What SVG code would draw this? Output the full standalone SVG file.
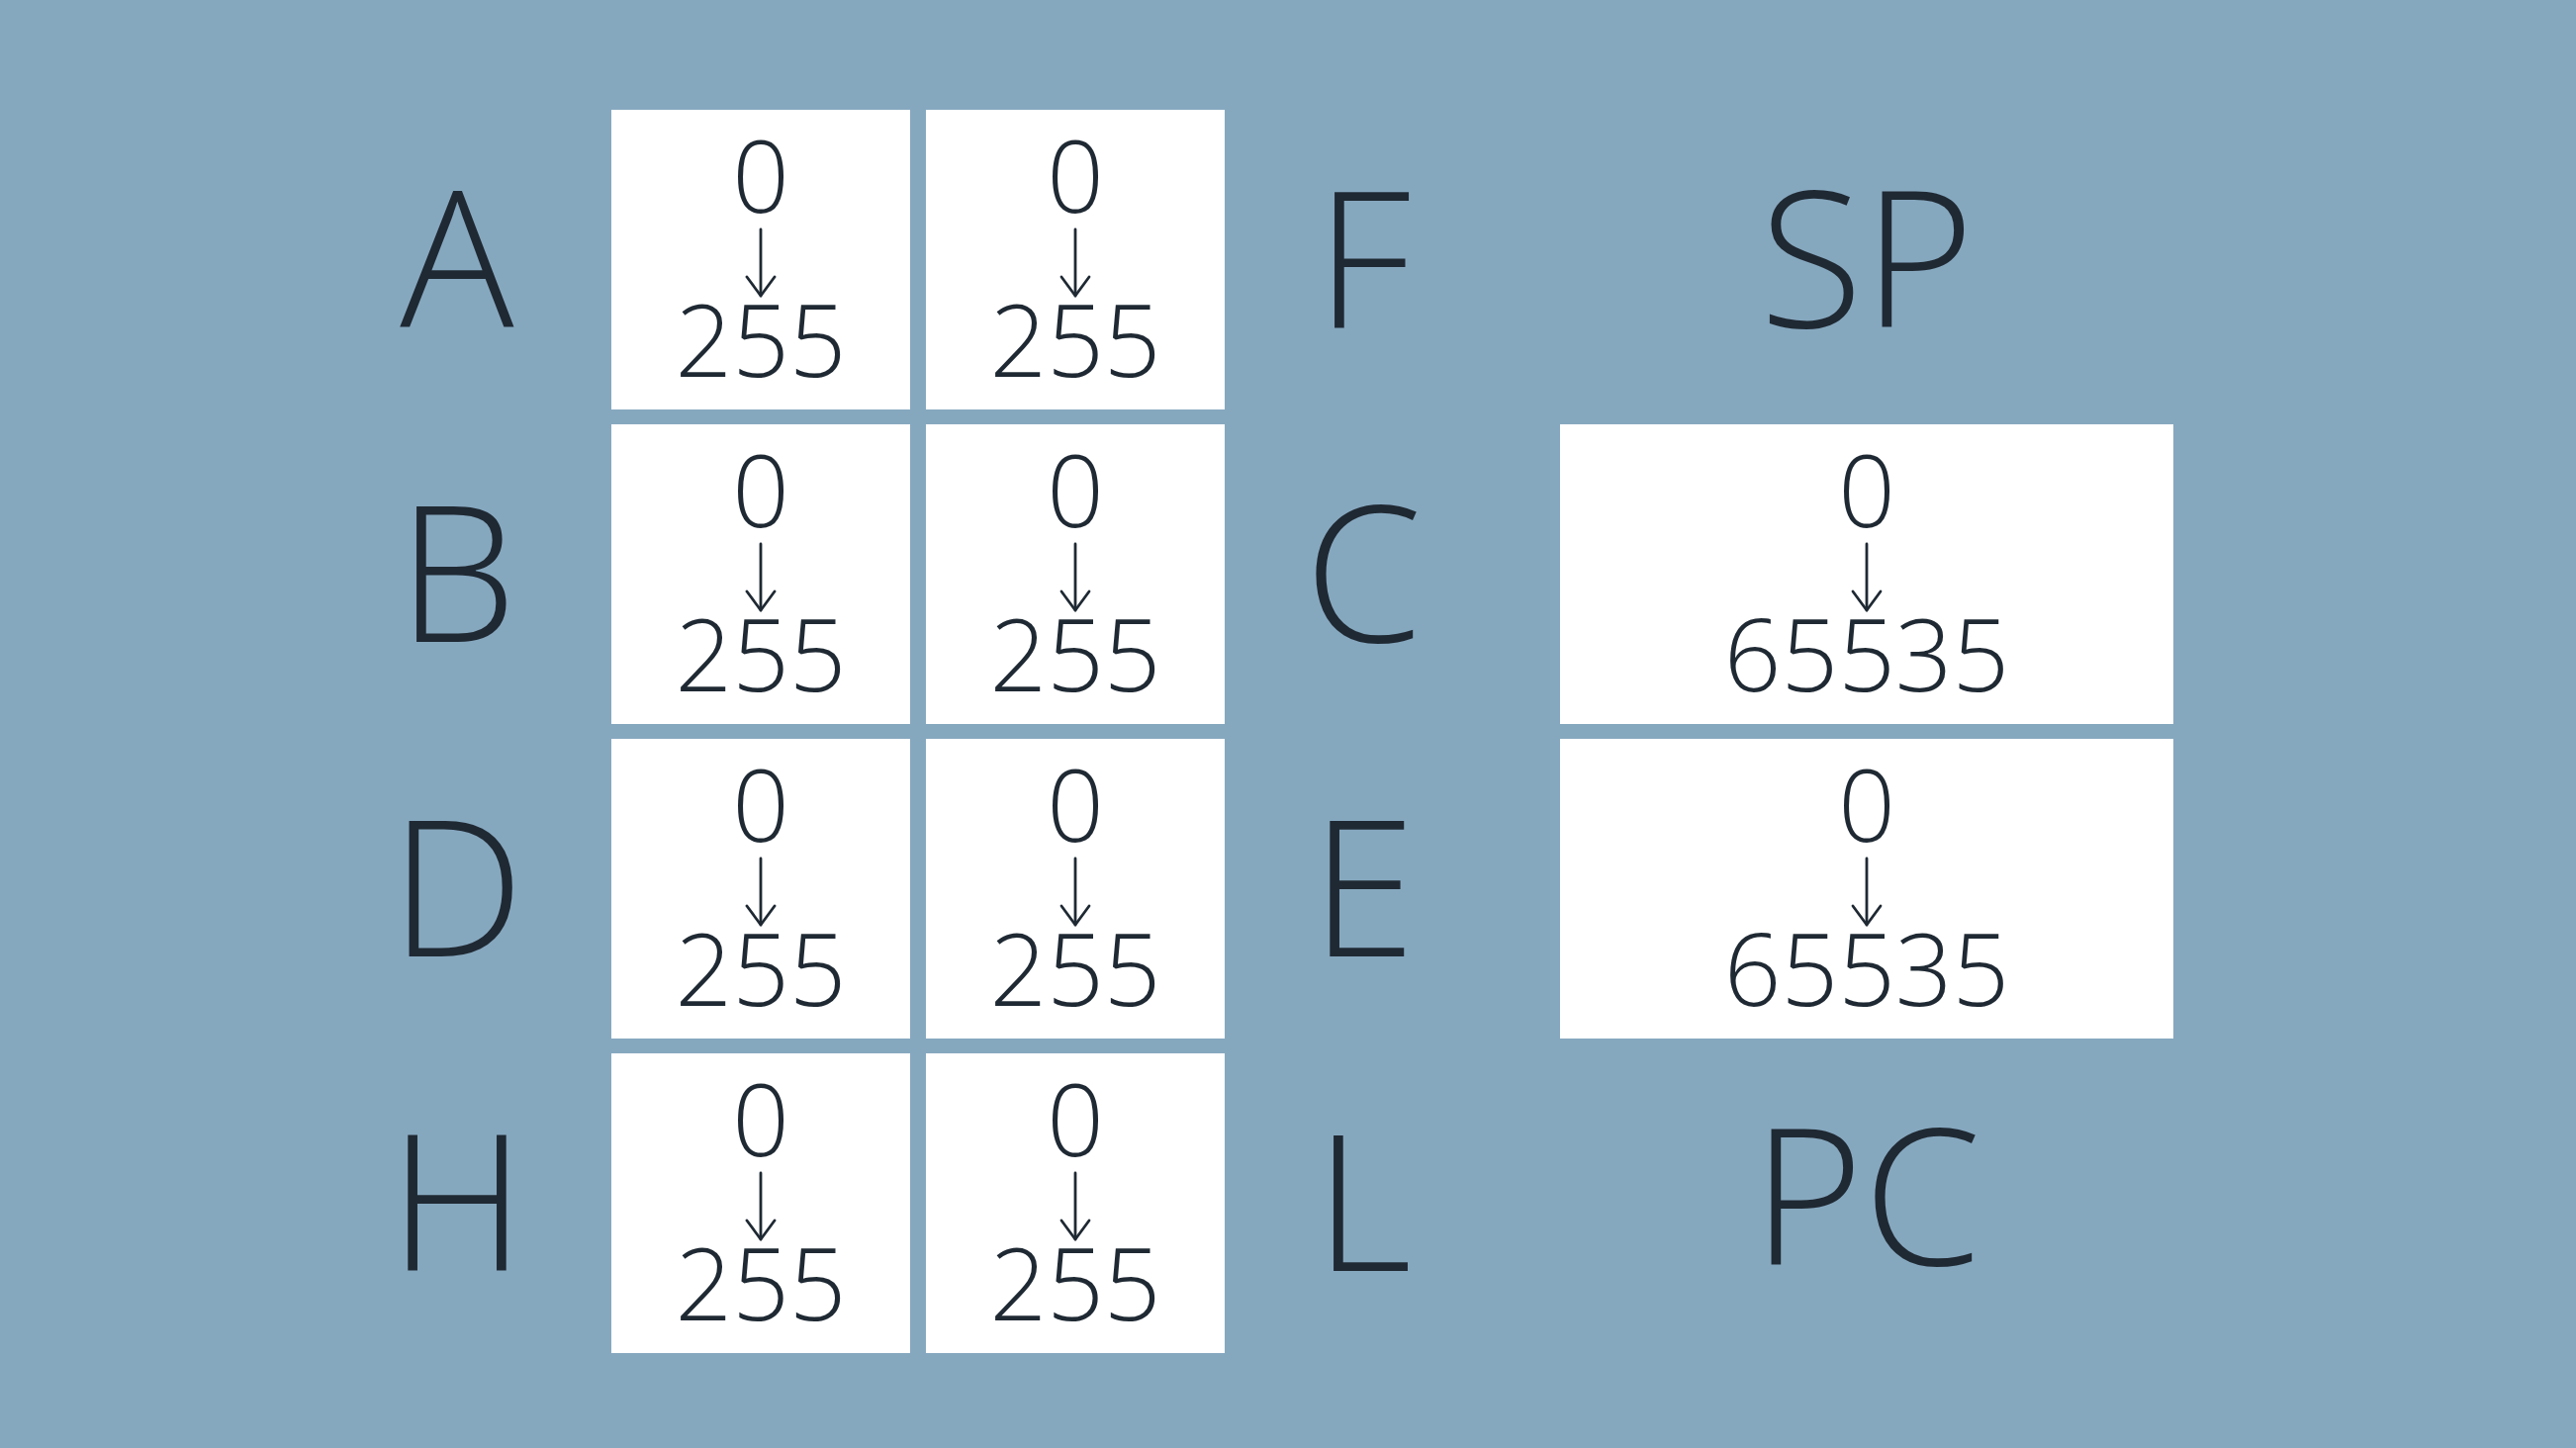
<svg xmlns="http://www.w3.org/2000/svg" xmlns:xlink="http://www.w3.org/1999/xlink" width="2604" height="1464" viewBox="0 0 2604 1464">
  <style>
    .bg { fill: #86a8bf; }
    .cell { fill: #ffffff; }
    .reg { font-family: "Open Sans", "Liberation Sans", sans-serif; font-weight: 300; font-size: 192px; fill: #1f2933; text-anchor: middle; }
    .num { font-family: "Open Sans", "Liberation Sans", sans-serif; font-weight: 300; font-size: 101px; fill: #1f2933; text-anchor: middle; }
    .arr { fill: none; stroke: #1f2933; stroke-width: 2.8; stroke-linecap: round; stroke-linejoin: round; }
  </style>
  <defs>
    <g id="down">
      <line class="arr" x1="0" y1="121" x2="0" y2="188"/>
      <polyline class="arr" points="-14,169 0,188 14,169"/>
    </g>
  </defs>
  <rect class="bg" x="0" y="0" width="2604" height="1464"/>

  <g id="label-A"><text class="reg" x="462" y="331">A</text></g>
  <g id="label-B"><text class="reg" x="462" y="649">B</text></g>
  <g id="label-D"><text class="reg" x="462" y="967">D</text></g>
  <g id="label-H"><text class="reg" x="462" y="1285">H</text></g>
  <g id="label-F"><text class="reg" x="1378" y="331">F</text></g>
  <g id="label-C"><text class="reg" x="1378" y="649">C</text></g>
  <g id="label-E"><text class="reg" x="1378" y="967">E</text></g>
  <g id="label-L"><text class="reg" x="1378" y="1285">L</text></g>
  <g id="label-SP"><text class="reg" x="1887" y="331">SP</text></g>
  <g id="label-PC"><text class="reg" x="1887" y="1279">PC</text></g>

  <g id="cell-A" transform="translate(618,111)">
    <rect class="cell" width="302" height="303"/>
    <text class="num" x="151" y="104">0</text>
    <use xlink:href="#down" href="#down" x="151"/>
    <text class="num" x="151" y="270">255</text>
  </g>
  <g id="cell-F" transform="translate(936,111)">
    <rect class="cell" width="302" height="303"/>
    <text class="num" x="151" y="104">0</text>
    <use xlink:href="#down" href="#down" x="151"/>
    <text class="num" x="151" y="270">255</text>
  </g>
  <g id="cell-B" transform="translate(618,429)">
    <rect class="cell" width="302" height="303"/>
    <text class="num" x="151" y="104">0</text>
    <use xlink:href="#down" href="#down" x="151"/>
    <text class="num" x="151" y="270">255</text>
  </g>
  <g id="cell-C" transform="translate(936,429)">
    <rect class="cell" width="302" height="303"/>
    <text class="num" x="151" y="104">0</text>
    <use xlink:href="#down" href="#down" x="151"/>
    <text class="num" x="151" y="270">255</text>
  </g>
  <g id="cell-D" transform="translate(618,747)">
    <rect class="cell" width="302" height="303"/>
    <text class="num" x="151" y="104">0</text>
    <use xlink:href="#down" href="#down" x="151"/>
    <text class="num" x="151" y="270">255</text>
  </g>
  <g id="cell-E" transform="translate(936,747)">
    <rect class="cell" width="302" height="303"/>
    <text class="num" x="151" y="104">0</text>
    <use xlink:href="#down" href="#down" x="151"/>
    <text class="num" x="151" y="270">255</text>
  </g>
  <g id="cell-H" transform="translate(618,1065)">
    <rect class="cell" width="302" height="303"/>
    <text class="num" x="151" y="104">0</text>
    <use xlink:href="#down" href="#down" x="151"/>
    <text class="num" x="151" y="270">255</text>
  </g>
  <g id="cell-L" transform="translate(936,1065)">
    <rect class="cell" width="302" height="303"/>
    <text class="num" x="151" y="104">0</text>
    <use xlink:href="#down" href="#down" x="151"/>
    <text class="num" x="151" y="270">255</text>
  </g>
  <g id="cell-BC" transform="translate(1577,429)">
    <rect class="cell" width="620" height="303"/>
    <text class="num" x="310" y="104">0</text>
    <use xlink:href="#down" href="#down" x="310"/>
    <text class="num" x="310" y="270">65535</text>
  </g>
  <g id="cell-DE" transform="translate(1577,747)">
    <rect class="cell" width="620" height="303"/>
    <text class="num" x="310" y="104">0</text>
    <use xlink:href="#down" href="#down" x="310"/>
    <text class="num" x="310" y="270">65535</text>
  </g>

  <g id="connectors"/>
</svg>
